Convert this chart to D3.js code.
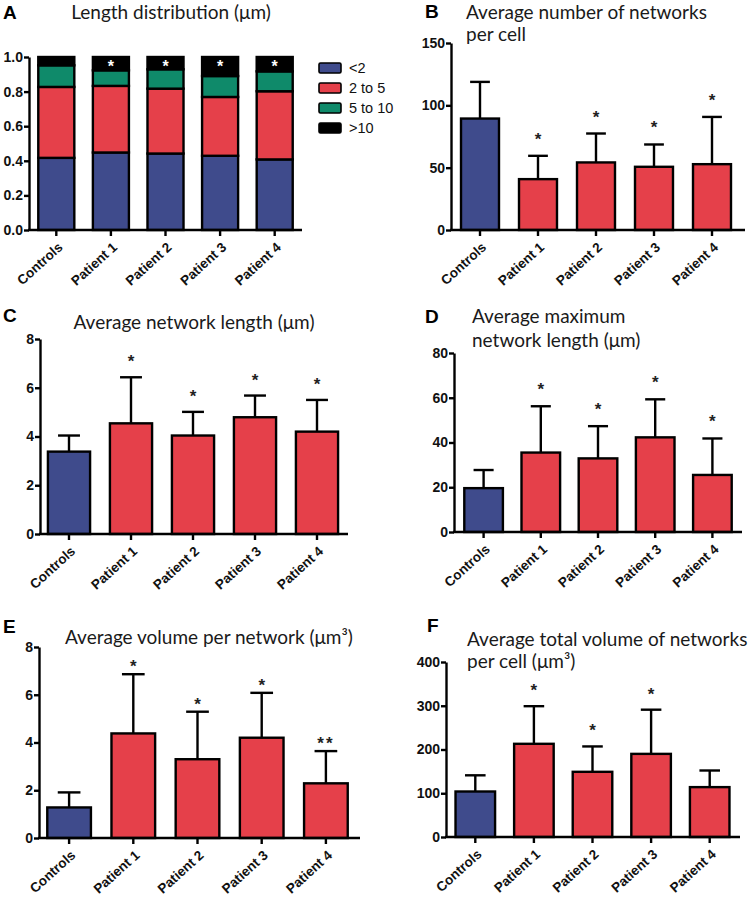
<!DOCTYPE html>
<html><head><meta charset="utf-8">
<script src="https://cdn.jsdelivr.net/npm/d3@7"></script>
<style>body{margin:0;background:#fff} svg{display:block}</style>
</head><body><svg id="c" width="750" height="904"></svg>
<script>
// ---------- DATA ----------
const categories = ["Controls", "Patient 1", "Patient 2", "Patient 3", "Patient 4"];
const lengthClasses = ["<2", "2 to 5", "5 to 10", ">10"];
const lenLt2    = [0.417, 0.448, 0.442, 0.429, 0.408];
const len2to5   = [0.410, 0.385, 0.375, 0.340, 0.394];
const len5to10  = [0.125, 0.090, 0.112, 0.121, 0.115];
const lenGt10   = [0.048, 0.077, 0.071, 0.110, 0.083];
const sigA      = ["", "*", "*", "*", "*"];

const netMean = [89.4, 40.8, 54.2, 50.7, 52.8];
const netSD   = [29.4, 18.7, 23.2, 17.9, 37.9];
const sigB    = ["", "*", "*", "*", "*"];

const lenMean = [3.38, 4.54, 4.04, 4.79, 4.20];
const lenSD   = [0.66, 1.89, 0.97, 0.89, 1.30];
const sigC    = ["", "*", "*", "*", "*"];

const maxMean = [19.6, 35.5, 32.9, 42.3, 25.5];
const maxSD   = [8.1, 20.7, 14.4, 17.0, 16.3];
const sigD    = ["", "*", "*", "*", "*"];

const volMean = [1.28, 4.38, 3.30, 4.20, 2.29];
const volSD   = [0.63, 2.48, 1.99, 1.88, 1.35];
const sigE    = ["", "*", "*", "*", "**"];

const totMean = [104, 213, 149, 190, 114];
const totSD   = [37, 86, 58, 101, 38];
const sigF    = ["", "*", "*", "*", ""];

const ticksA = [0, 0.2, 0.4, 0.6, 0.8, 1.0];
const ticksB = [0, 50, 100, 150];
const ticksC = [0, 2, 4, 6, 8];
const ticksD = [0, 20, 40, 60, 80];
const ticksE = [0, 2, 4, 6, 8];
const ticksF = [0, 100, 200, 300, 400];

// ---------- STYLE ----------
const BLUE = "#3F4B8C", RED = "#E5404A", GREEN = "#0F8A6A", BLACK = "#000";
const groupColors = [BLUE, RED, RED, RED, RED];
const stackColors = [BLUE, RED, GREEN, BLACK];
const AX_FONT = "'Liberation Sans', Arial, sans-serif";
const TITLE_FONT = "Lato, 'Open Sans', sans-serif";
const LW = 2.4;

const svg = d3.select("#c");
svg.append("rect").attr("width", 750).attr("height", 904).attr("fill", "#fff");

function frame(p) {
  const g = svg.append("g");
  const x = d3.scaleBand().domain(categories).range(p.xr)
    .paddingInner(p.pi).paddingOuter(p.pi / 2);
  const y = d3.scaleLinear().domain([0, p.ticks[p.ticks.length - 1]]).range([p.yb, p.yt]);
  return {g, x, y};
}

function axes(p, f) {
  const {g, x, y} = f;
  const ya = g.append("g").attr("transform", `translate(${p.x0},0)`)
    .call(d3.axisLeft(y).tickValues(p.ticks).tickFormat(p.fmt).tickSize(5).tickSizeOuter(0));
  ya.select(".domain").attr("stroke-width", LW).attr("stroke", "#000");
  ya.selectAll(".tick line").attr("stroke-width", LW).attr("stroke", "#000");
  ya.selectAll(".tick text").attr("font-family", AX_FONT).attr("font-weight", "bold")
    .attr("font-size", 14).attr("fill", "#111").attr("x", -6);
  g.append("line").attr("x1", p.x0 - 1).attr("x2", p.x1).attr("y1", p.yb).attr("y2", p.yb)
    .attr("stroke", "#000").attr("stroke-width", LW);
  const xa = g.append("g").attr("transform", `translate(0,${p.yb})`)
    .call(d3.axisBottom(x).tickSize(6).tickSizeOuter(0));
  xa.select(".domain").remove();
  xa.selectAll(".tick line").attr("stroke-width", LW).attr("stroke", "#000");
  xa.selectAll(".tick text").attr("font-family", AX_FONT).attr("font-weight", "bold")
    .attr("font-size", 13.5).attr("fill", "#111")
    .attr("text-anchor", "end").attr("x", 0).attr("y", 0).attr("dy", "0.35em")
    .attr("transform", "translate(4,15) rotate(-42)");
}

function title(lines, xPos, ys, anchor) {
  lines.forEach((t, i) => {
    svg.append("text").attr("x", xPos).attr("y", ys[i]).attr("text-anchor", anchor)
      .attr("font-family", TITLE_FONT).attr("font-size", 19).attr("fill", "#1a1a1a").text(t);
  });
}
function letter(t, xPos, yPos) {
  svg.append("text").attr("x", xPos).attr("y", yPos).attr("font-family", AX_FONT)
    .attr("font-weight", "bold").attr("font-size", 19).attr("fill", "#000").text(t);
}

function barPanel(p, mean, sd, sig) {
  const f = frame(p);
  const {g, x, y} = f;
  const rows = categories.map((c, i) => ({c, m: mean[i], s: sd[i], sig: sig[i], col: groupColors[i]}));
  const capW = x.bandwidth() * 0.52;
  rows.forEach(d => {
    const cx = x(d.c) + x.bandwidth() / 2;
    g.append("line").attr("x1", cx).attr("x2", cx).attr("y1", y(d.m)).attr("y2", y(d.m + d.s))
      .attr("stroke", "#000").attr("stroke-width", LW);
    g.append("line").attr("x1", cx - capW / 2).attr("x2", cx + capW / 2)
      .attr("y1", y(d.m + d.s)).attr("y2", y(d.m + d.s))
      .attr("stroke", "#000").attr("stroke-width", LW);
    if (d.sig) {
      g.append("text").attr("x", cx).attr("y", y(d.m + d.s) - p.starOff + 9)
        .attr("text-anchor", "middle").attr("font-family", AX_FONT).attr("font-weight", "bold")
        .attr("font-size", 17).attr("letter-spacing", d.sig.length > 1 ? 2 : 0)
        .attr("fill", "#222").text(d.sig);
    }
  });
  g.selectAll("rect.bar").data(rows).join("rect").attr("class", "bar")
    .attr("x", d => x(d.c)).attr("width", x.bandwidth())
    .attr("y", d => y(d.m)).attr("height", d => y(0) - y(d.m))
    .attr("fill", d => d.col).attr("stroke", "#000").attr("stroke-width", LW);
  axes(p, f);
}

// ---------- PANEL A (stacked) ----------
(function () {
  const p = {x0: 29, x1: 302, xr: [29, 302], yb: 230, yt: 57, pi: 0.34, ticks: ticksA, fmt: d3.format(".1f")};
  const f = frame(p);
  const {g, x, y} = f;
  const series = [lenLt2, len2to5, len5to10, lenGt10];
  const table = categories.map((c, i) => {
    const o = {c};
    lengthClasses.forEach((k, j) => o[k] = series[j][i]);
    return o;
  });
  const stacked = d3.stack().keys(lengthClasses)(table);
  stacked.forEach((s, j) => {
    g.selectAll(null).data(s).join("rect")
      .attr("x", d => x(d.data.c)).attr("width", x.bandwidth())
      .attr("y", d => y(d[1])).attr("height", d => y(d[0]) - y(d[1]))
      .attr("fill", stackColors[j]).attr("stroke", "#000").attr("stroke-width", LW);
  });
  categories.forEach((c, i) => {
    if (sigA[i]) {
      g.append("text").attr("x", x(c) + x.bandwidth() / 2).attr("y", y(1) + 6 + 9)
        .attr("text-anchor", "middle").attr("font-family", AX_FONT).attr("font-weight", "bold")
        .attr("font-size", 16).attr("fill", "#fff").text(sigA[i]);
    }
  });
  axes(p, f);
  const lg = svg.append("g");
  lengthClasses.forEach((k, j) => {
    const yy = 68 + j * 20;
    lg.append("rect").attr("x", 319).attr("y", yy - 5).attr("width", 22).attr("height", 10)
      .attr("rx", 1.5).attr("fill", stackColors[j]).attr("stroke", "#000").attr("stroke-width", 1.6);
    lg.append("text").attr("x", 349).attr("y", yy).attr("dy", "0.36em")
      .attr("font-family", AX_FONT).attr("font-size", 14.5).attr("fill", "#111").text(k);
  });
  title(["Length distribution (μm)"], 171, [19], "middle");
  letter("A", 3, 19);
})();

// ---------- PANELS B-F ----------
barPanel({x0: 451, x1: 745, xr: [451, 741], yb: 230, yt: 43, pi: 0.345, ticks: ticksB, fmt: d3.format("d"), starOff: 20},
  netMean, netSD, sigB);
title(["Average number of networks", "per cell"], 466, [19, 41], "start");
letter("B", 425, 18);

barPanel({x0: 40, x1: 348, xr: [38, 348], yb: 534, yt: 339, pi: 0.32, ticks: ticksC, fmt: d3.format("d"), starOff: 19},
  lenMean, lenSD, sigC);
title(["Average network length (μm)"], 194, [329], "middle");
letter("C", 3, 322);

barPanel({x0: 454, x1: 742, xr: [455, 741], yb: 532, yt: 353, pi: 0.325, ticks: ticksD, fmt: d3.format("d"), starOff: 20},
  maxMean, maxSD, sigD);
title(["Average maximum", "network length (μm)"], 472, [323, 347], "start");
letter("D", 425, 323);

barPanel({x0: 39, x1: 360, xr: [37, 358], yb: 838, yt: 647, pi: 0.32, ticks: ticksE, fmt: d3.format("d"), starOff: 11},
  volMean, volSD, sigE);
title(["Average volume per network (μm³)"], 65, [644], "start");
letter("E", 3, 633);

barPanel({x0: 446, x1: 740, xr: [446, 739], yb: 837, yt: 662, pi: 0.325, ticks: ticksF, fmt: d3.format("d"), starOff: 19},
  totMean, totSD, sigF);
title(["Average total volume of networks", "per cell (μm³)"], 467, [646, 668], "start");
letter("F", 427, 632);
</script>
</body></html>
